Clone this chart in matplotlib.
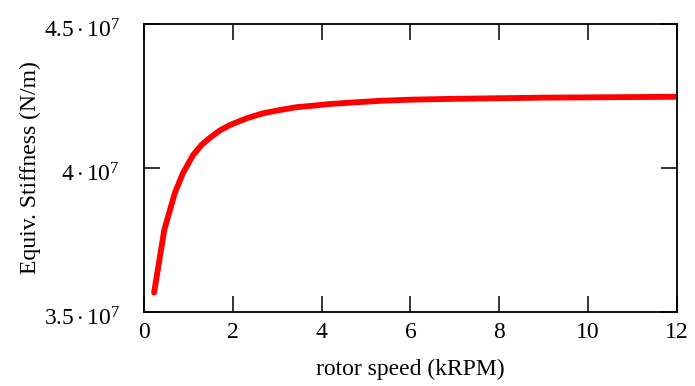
import matplotlib
matplotlib.use("Agg")
import matplotlib.pyplot as plt
import matplotlib.transforms as mtransforms
from matplotlib.ticker import FixedLocator, FixedFormatter

plt.rcParams['font.family'] = ['Liberation Serif', 'DejaVu Serif']
plt.rcParams['mathtext.fontset'] = 'custom'
plt.rcParams['mathtext.rm'] = 'Liberation Serif'
plt.rcParams['mathtext.it'] = 'Liberation Serif:italic'

speed = [0.23, 0.46, 0.70, 0.88, 1.11, 1.30, 1.49, 1.71, 1.94, 2.31, 2.69, 3.06, 3.44, 3.81,
         4.19, 4.79, 5.32, 6.0, 7.0, 8.0, 9.0, 10.0, 11.0, 12.0]
stiffness = [3.567e7, 3.785e7, 3.914e7, 3.982e7, 4.045e7, 4.080e7, 4.105e7, 4.130e7, 4.149e7,
             4.172e7, 4.19e7, 4.201e7, 4.211e7, 4.216e7, 4.222e7, 4.228e7, 4.233e7, 4.237e7,
             4.240e7, 4.242e7, 4.244e7, 4.245e7, 4.246e7, 4.247e7]

xticks = [0, 2, 4, 6, 8, 10, 12]
yticks = [3.5e7, 4.0e7, 4.5e7]
ytick_labels = [r'$3.5\cdot10^{7}$', r'$4\cdot10^{7}$', r'$4.5\cdot10^{7}$']

fig = plt.figure(figsize=(6.95, 3.86), dpi=100)
ax = fig.add_axes([0.207, 0.192, 0.767, 0.746])
ax.plot(speed, stiffness, color='#ff0000', lw=4.2, solid_capstyle='round', solid_joinstyle='round')
ax.set_xlim(0, 12)
ax.set_ylim(3.5e7, 4.5e7)
ax.xaxis.set_major_locator(FixedLocator(xticks))
ax.yaxis.set_major_locator(FixedLocator(yticks))
ax.yaxis.set_major_formatter(FixedFormatter(ytick_labels))
ax.tick_params(direction='in', length=11.5, width=1.1, top=True, right=True, labelsize=17)
ax.tick_params(axis='x', pad=7)
ax.tick_params(axis='y', pad=17)
offset = mtransforms.ScaledTranslation(0, -3 / 72, fig.dpi_scale_trans)
for lbl in ax.get_yticklabels():
    lbl.set_transform(lbl.get_transform() + offset)
for s in ax.spines.values():
    s.set_linewidth(1.3)
ax.set_xlabel('rotor speed (kRPM)', fontsize=17, labelpad=12)
ax.set_ylabel('Equiv. Stiffness (N/m)', fontsize=17, labelpad=2)
fig.savefig('out.png', dpi=100)
